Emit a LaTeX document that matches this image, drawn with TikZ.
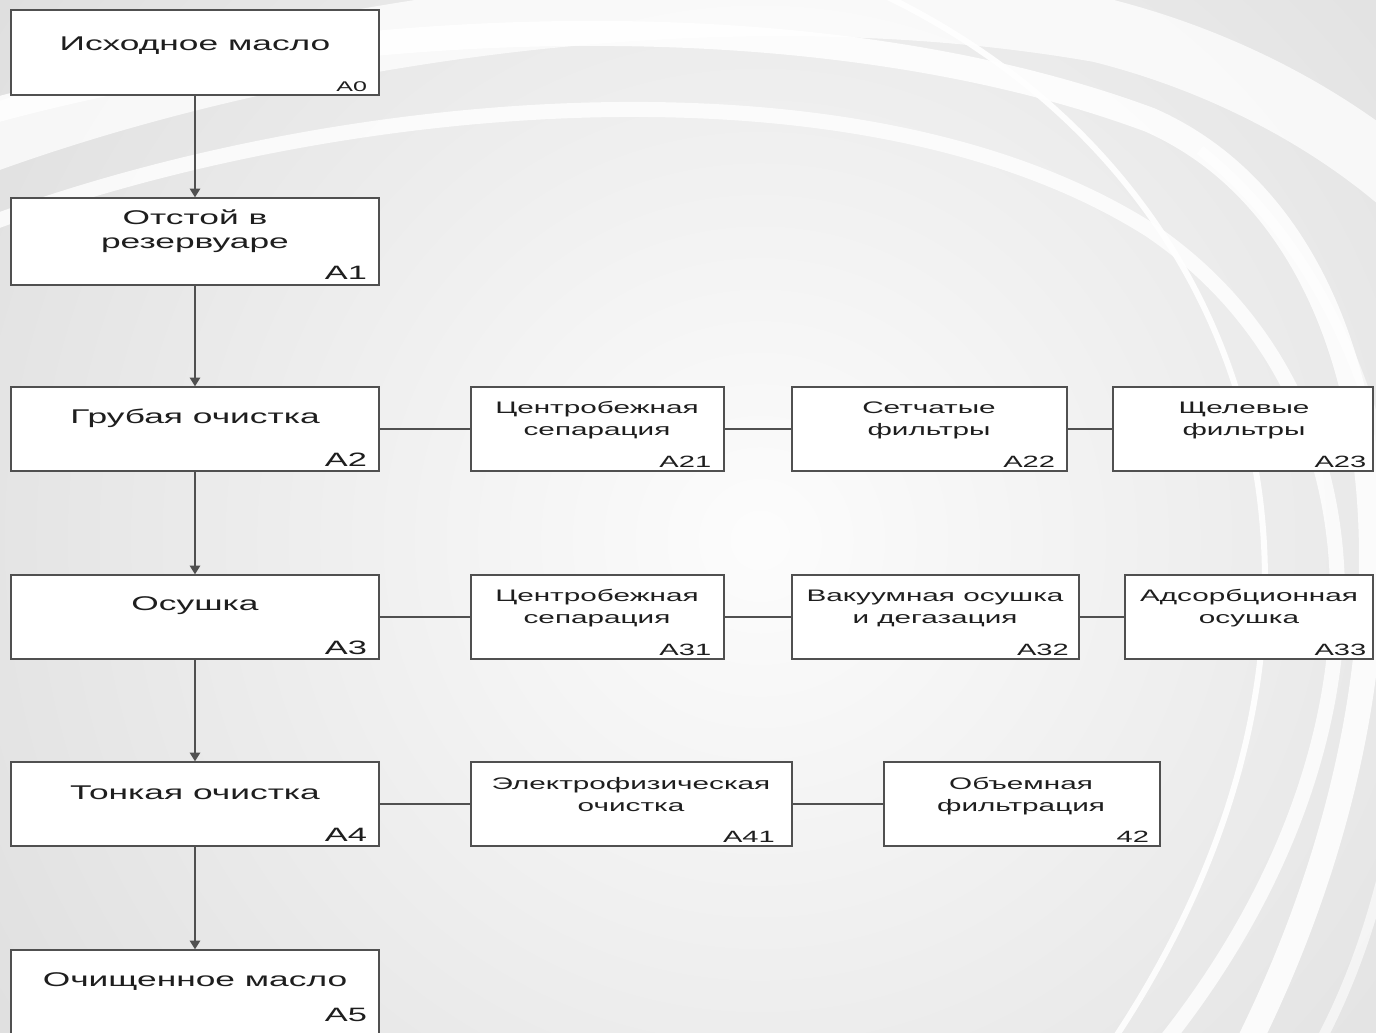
\documentclass[tikz,border=0pt]{standalone}
\usepackage{fontspec}
\setmainfont{Liberation Sans}
\newfontfamily\blockfont{Liberation Sans}[FakeStretch=1.78]
\usetikzlibrary{arrows.meta,fit}

\definecolor{linegray}{HTML}{505050}
\definecolor{textgray}{HTML}{1E1E1E}
\definecolor{backgray}{HTML}{D8D8D8}

\tikzset{
  block/.style={draw=linegray, line width=0.8pt, fill=white, inner sep=0pt},
  title/.style={anchor=base, align=center, inner sep=0pt, text=textgray,
    font=\blockfont\fontsize{11.3}{13.6}\selectfont},
  subtitle/.style={anchor=base, align=center, inner sep=0pt, text=textgray,
    font=\blockfont\fontsize{9.5}{12.4}\selectfont},
  tag/.style={anchor=base east, inner sep=0pt, text=textgray,
    font=\blockfont\fontsize{11}{13}\selectfont},
  subtag/.style={tag, font=\blockfont\fontsize{9.3}{11}\selectfont},
  flow/.style={draw=linegray, line width=0.8pt, -{Triangle[width=6pt,length=5pt]}},
  link/.style={draw=linegray, line width=0.8pt},
  swirl/.style={draw=white},
}

\begin{document}
\begin{tikzpicture}[x=0.02cm, y=-0.02cm]
  \useasboundingbox (0,0) rectangle (1376,1032);

  % background
  \begin{scope}
    \clip (0,0) rectangle (1376,1032);
    \fill[backgray] (0,0) rectangle (1376,1032);
    \shade[inner color=white!98!gray, outer color=backgray] (760,540) circle (1150);
    \draw[swirl, line width=1.3cm, opacity=.75] (-40,150) .. controls (250,40) and (700,-40) .. (1100,30) .. controls (1300,80) and (1450,200) .. (1500,300);
    \draw[swirl, line width=0.5cm, opacity=.85] (-40,120) .. controls (300,20) and (800,-10) .. (1150,120) .. controls (1400,230) and (1450,650) .. (1240,1060);
    \draw[swirl, line width=0.3cm, opacity=.8] (-40,235) .. controls (300,100) and (850,40) .. (1150,230) .. controls (1400,400) and (1400,760) .. (1150,1060);
    \draw[swirl, line width=0.12cm, opacity=.9] (800,-40) .. controls (1250,120) and (1420,600) .. (1100,1060);
    \draw[swirl, line width=0.2cm, opacity=.6] (1200,150) .. controls (1450,350) and (1460,800) .. (1310,1060);
  \end{scope}

  % main column
  \node[block, fit={(11,10) (379,95)}] (a0) {};
  \node[block, fit={(11,198) (379,285)}] (a1) {};
  \node[block, fit={(11,387) (379,471)}] (a2) {};
  \node[block, fit={(11,575) (379,659)}] (a3) {};
  \node[block, fit={(11,762) (379,846)}] (a4) {};
  \node[block, fit={(11,950) (379,1045)}] (a5) {};

  \node[title] at (195,50) {Исходное масло};
  \node[title] at (195,248) {Отстой в\\резервуаре};
  \node[title] at (195,423) {Грубая очистка};
  \node[title] at (195,610) {Осушка};
  \node[title] at (195,799) {Тонкая очистка};
  \node[title] at (195,986) {Очищенное масло};

  \node[tag, font=\blockfont\fontsize{8}{10}\selectfont] at ([xshift=-7pt,yshift=2.5pt]a0.south east) {A0};
  \node[tag] at ([xshift=-7pt,yshift=3.5pt]a1.south east) {A1};
  \node[tag] at ([xshift=-7pt,yshift=3pt]a2.south east) {A2};
  \node[tag] at ([xshift=-7pt,yshift=3pt]a3.south east) {A3};
  \node[tag] at ([xshift=-7pt,yshift=3pt]a4.south east) {A4};
  \node[tag] at ([xshift=-7pt,yshift=3pt]a5.south east |- 0,1027) {A5};

  % sub-steps
  \node[block, fit={(471,387) (724,471)}] (a21) {};
  \node[block, fit={(792,387) (1067,471)}] (a22) {};
  \node[block, fit={(1113,387) (1373,471)}] (a23) {};
  \node[block, fit={(471,575) (724,659)}] (a31) {};
  \node[block, fit={(792,575) (1079,659)}] (a32) {};
  \node[block, fit={(1125,575) (1373,659)}] (a33) {};
  \node[block, fit={(471,762) (792,846)}] (a41) {};
  \node[block, fit={(884,762) (1160,846)}] (a42) {};

  \node[subtitle] at (597,435) {Центробежная\\сепарация};
  \node[subtitle] at (929,435) {Сетчатые\\фильтры};
  \node[subtitle] at (1244,435) {Щелевые\\фильтры};
  \node[subtitle] at (597,623) {Центробежная\\сепарация};
  \node[subtitle] at (935,623) {Вакуумная осушка\\и дегазация};
  \node[subtitle] at (1249,623) {Адсорбционная\\осушка};
  \node[subtitle] at (631,811) {Электрофизическая\\очистка};
  \node[subtitle] at (1021,811) {Объемная\\фильтрация};

  \node[subtag] at ([xshift=-7.5pt,yshift=2.5pt]a21.south east) {A21};
  \node[subtag] at ([xshift=-7pt,yshift=2.5pt]a22.south east) {A22};
  \node[subtag] at ([xshift=-4pt,yshift=2.5pt]a23.south east) {A23};
  \node[subtag] at ([xshift=-7.5pt,yshift=2.5pt]a31.south east) {A31};
  \node[subtag] at ([xshift=-6pt,yshift=2.5pt]a32.south east) {A32};
  \node[subtag] at ([xshift=-4pt,yshift=2.5pt]a33.south east) {A33};
  \node[subtag] at ([xshift=-10pt,yshift=2.5pt]a41.south east) {A41};
  \node[subtag] at ([xshift=-6.5pt,yshift=2.5pt]a42.south east) {42};

  % connectors
  \draw[flow] (a0) -- (a1);
  \draw[flow] (a1) -- (a2);
  \draw[flow] (a2) -- (a3);
  \draw[flow] (a3) -- (a4);
  \draw[flow] (a4) -- (a5);

  \draw[link] (a2) -- (a21);
  \draw[link] (a21) -- (a22);
  \draw[link] (a22) -- (a23);
  \draw[link] (a3) -- (a31);
  \draw[link] (a31) -- (a32);
  \draw[link] (a32) -- (a33);
  \draw[link] (a4) -- (a41);
  \draw[link] (a41) -- (a42);
\end{tikzpicture}
\end{document}
